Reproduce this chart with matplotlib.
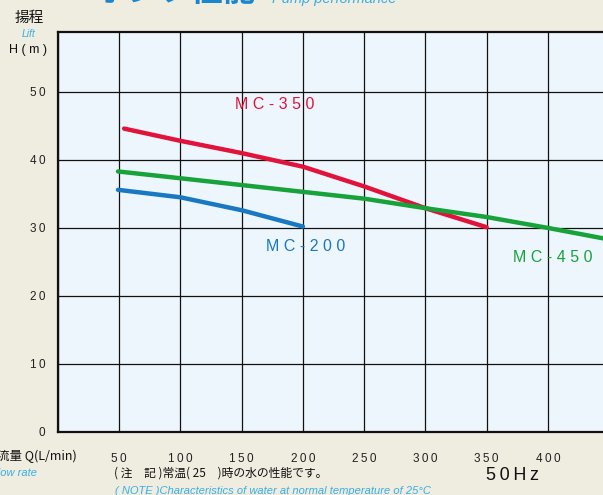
import matplotlib.pyplot as plt

plt.rcParams['font.family'] = ['Liberation Sans', 'Noto Sans CJK JP', 'DejaVu Sans']

# Pump curves (flow L/min, head m)
mc350_q = [54, 100, 150, 200, 250, 300, 350]
mc350_h = [44.6, 42.8, 41.0, 39.0, 36.1, 32.9, 30.1]

mc450_q = [49, 100, 150, 200, 250, 300, 350, 400, 450]
mc450_h = [38.3, 37.3, 36.3, 35.3, 34.3, 32.9, 31.6, 30.0, 28.3]

mc200_q = [49, 100, 150, 200]
mc200_h = [35.6, 34.5, 32.6, 30.2]

x_ticks = [50, 100, 150, 200, 250, 300, 350, 400]
y_ticks = [0, 10, 20, 30, 40, 50]

red = '#e2133a'
green = '#18a23a'
blue = '#1878c2'
light_blue = '#3aaee6'

W, H = 603, 495
fig = plt.figure(figsize=(W / 100, H / 100), dpi=100)
fig.patch.set_facecolor('#efece0')


def px(x, y):
    return x / W, 1 - y / H


def spaced(s, sep='\u2009'):
    return sep.join(s)


left, bottom = px(58, 432)
_, top = px(0, 32)
ax = fig.add_axes([left, bottom, 1 - left, top - bottom])
ax.set_facecolor('#eef6fd')
ax.set_xlim(0, 445)
ax.set_ylim(0, 58.8)

ax.set_xticks([0] + x_ticks)
ax.set_xticklabels([''] + [spaced(str(v)) for v in x_ticks])
ax.set_yticks(y_ticks)
ax.set_yticklabels(['0'] + [spaced(str(v)) for v in y_ticks[1:]])
ax.tick_params(length=0, labelsize=8.5, colors='#222222')
ax.tick_params(axis='x', pad=15)
ax.tick_params(axis='y', pad=9)
ax.grid(True, color='#111111', linewidth=0.9)
ax.set_axisbelow(True)
for side in ['left', 'bottom', 'top']:
    ax.spines[side].set_linewidth(1.6)
    ax.spines[side].set_color('#111111')
ax.spines['right'].set_visible(False)

ax.plot(mc350_q, mc350_h, color=red, lw=3.2, solid_capstyle='round')
ax.plot(mc450_q, mc450_h, color=green, lw=3.2, solid_capstyle='round')
ax.plot(mc200_q, mc200_h, color=blue, lw=3.2, solid_capstyle='round')

ax.text(177, 48.1, 'M C - 3 5 0', color=red, fontsize=11.5, ha='center', va='center')
ax.text(202, 27.2, 'M C - 2 0 0', color=blue, fontsize=11.5, ha='center', va='center')
ax.text(404, 25.7, 'M C - 4 5 0', color=green, fontsize=11.5, ha='center', va='center')

# header texts
fig.text(*px(96, -8), 'ポンプ性能', fontsize=23, fontweight='bold', color='#1a86d0',
         family=['Noto Sans CJK JP'], va='center')
fig.text(*px(272, 3), 'Pump performance', fontsize=10.5, style='italic', color=light_blue,
         va='baseline')
fig.text(*px(29, 18), '揚程', fontsize=10.5, family=['Noto Sans CJK JP'], ha='center', va='center',
         color='#111111')
fig.text(*px(29, 34), 'Lift', fontsize=7.5, style='italic', color=light_blue, ha='center', va='center')
fig.text(*px(28, 50), 'H ( m )', fontsize=9, ha='center', va='center', color='#111111')

# footer texts
fig.text(*px(-3, 456), '流量 Q(L/min)', fontsize=9, family=['Noto Sans CJK JP', 'Liberation Sans'],
         va='center', color='#111111')
fig.text(*px(-9, 473), 'Flow rate', fontsize=8, style='italic', color=light_blue, va='center')
fig.text(*px(114, 473), '( 注　記 )常温( 25　)時の水の性能です。', fontsize=8.5,
         family=['Noto Sans CJK JP', 'Liberation Sans'], va='center', color='#111111')
fig.text(*px(512, 475), spaced('50Hz'), fontsize=13, ha='center', va='center', color='#111111')
fig.text(*px(115, 491), '( NOTE )Characteristics of water at normal temperature of 25°C',
         fontsize=8, style='italic', color=light_blue, va='center')

fig.savefig('out.png', dpi=100, facecolor=fig.get_facecolor())
